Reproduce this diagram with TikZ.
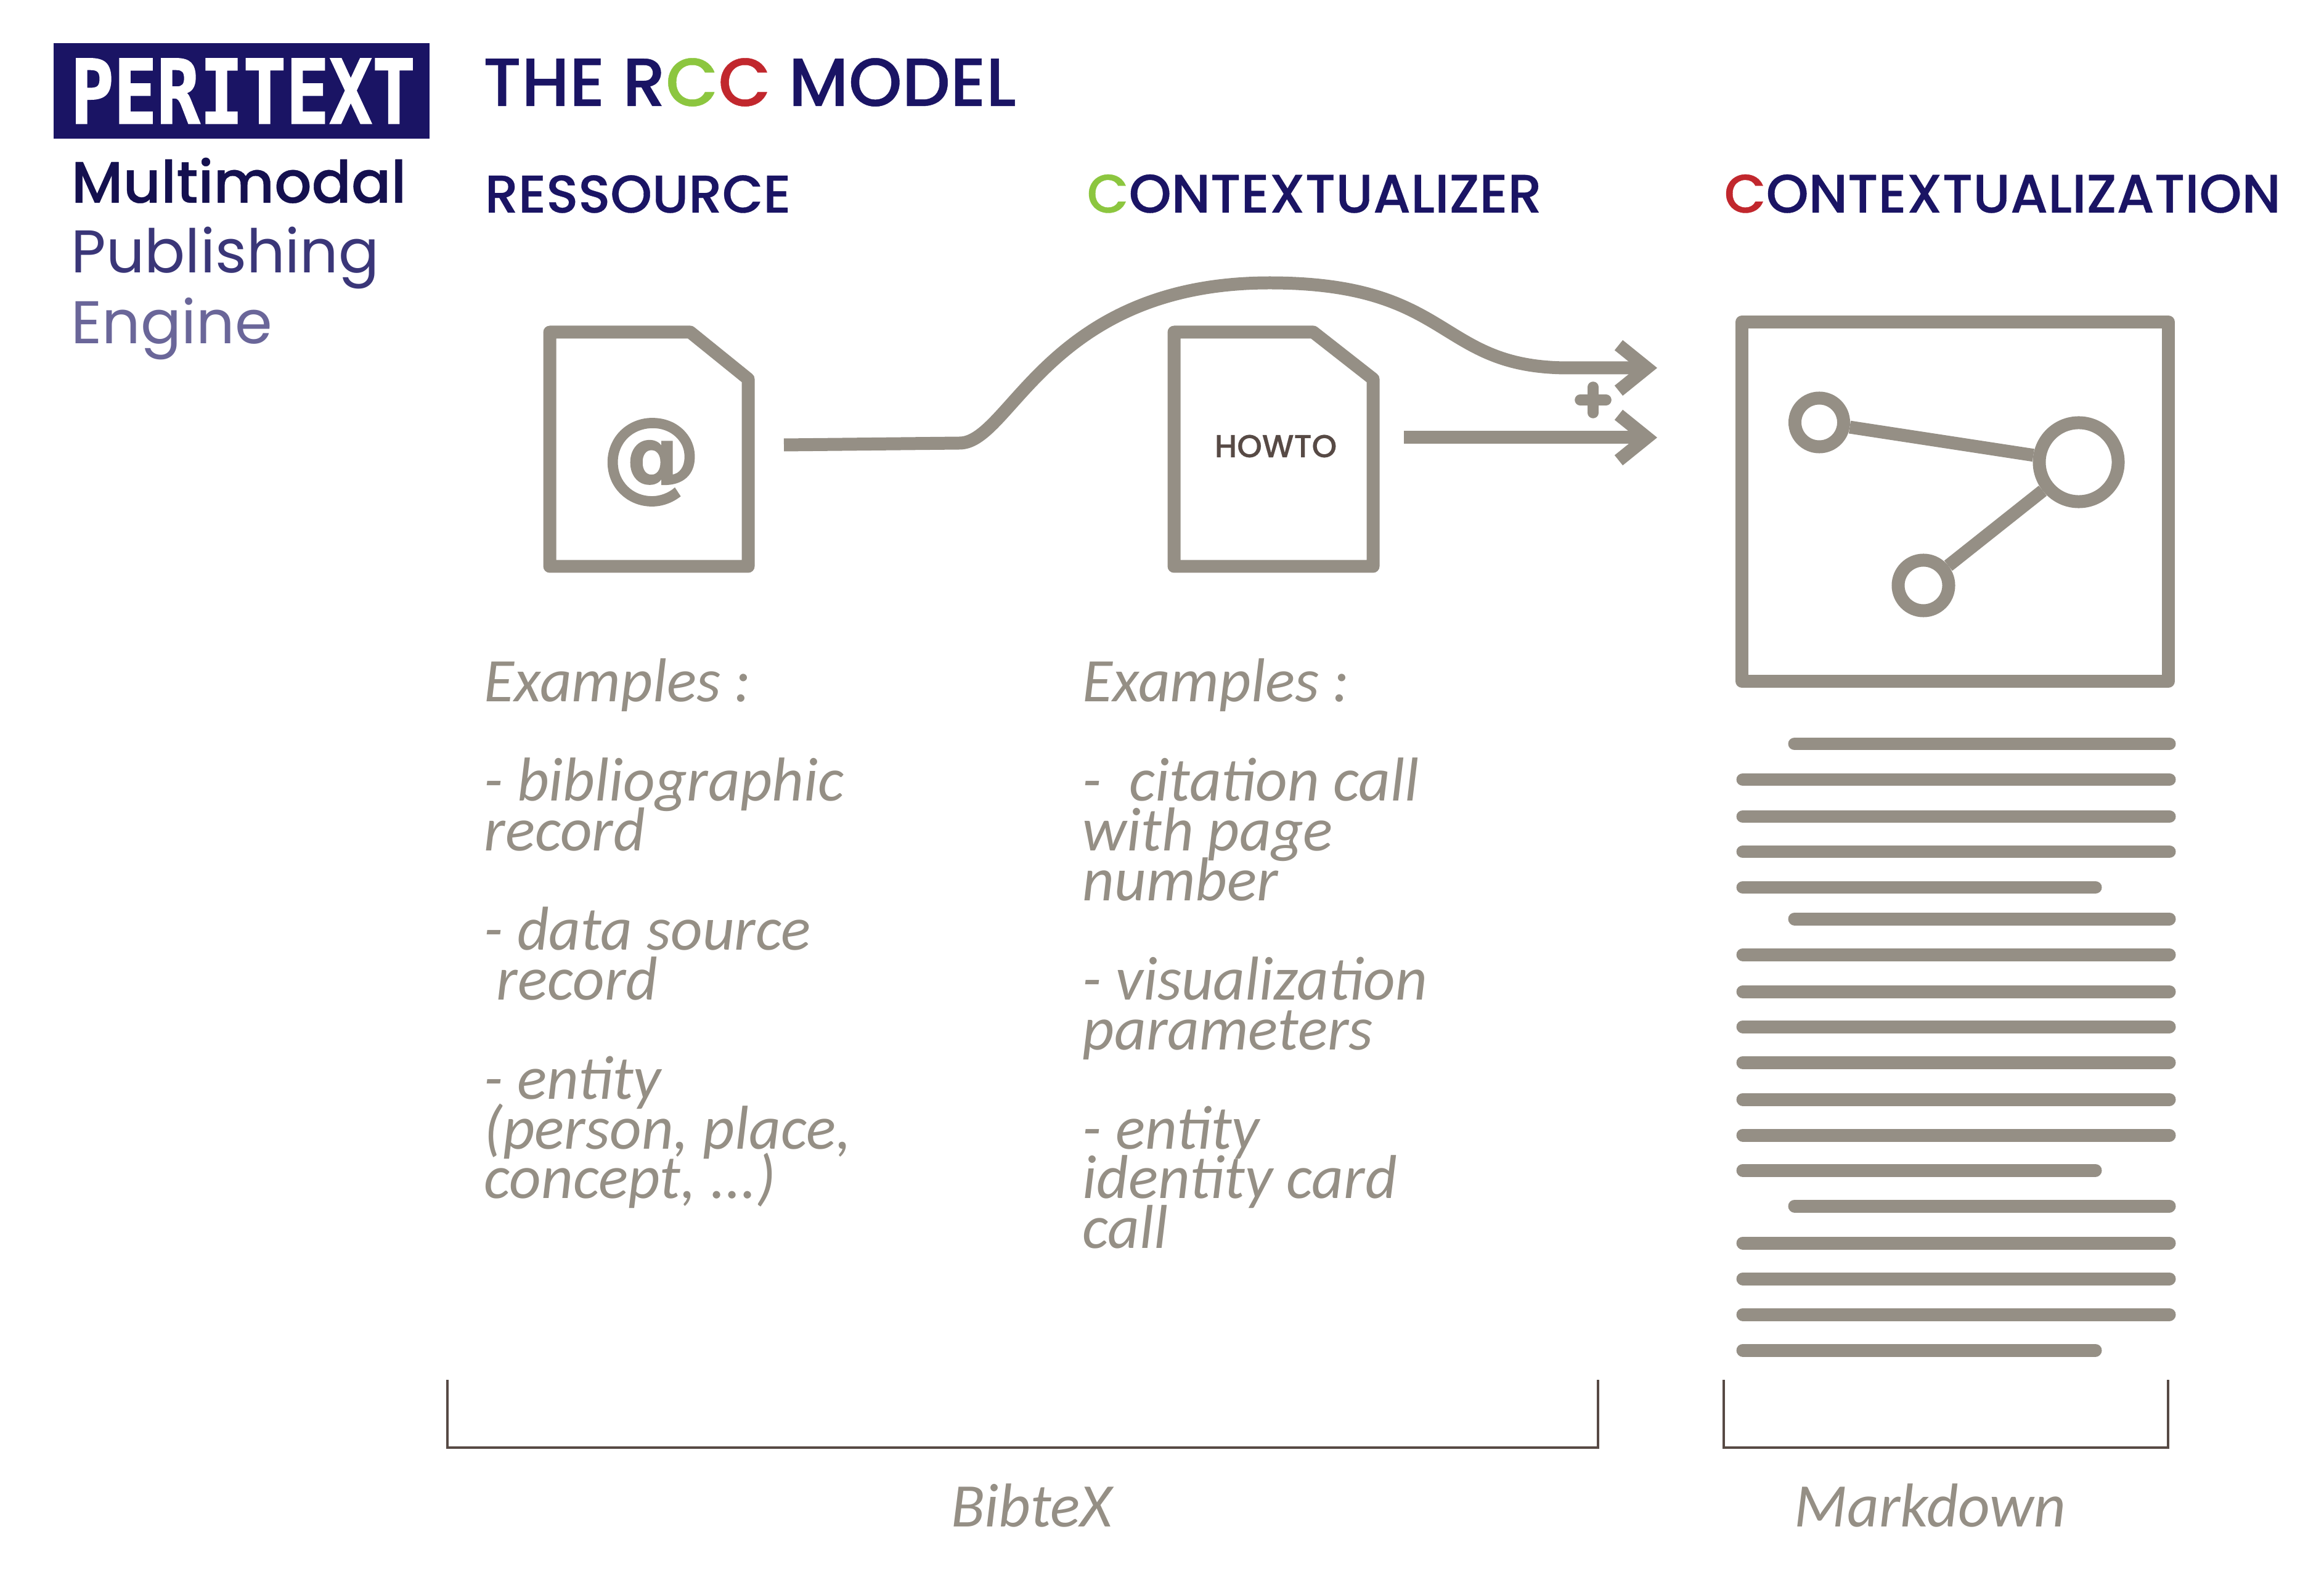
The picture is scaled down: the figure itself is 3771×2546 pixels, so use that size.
\documentclass[tikz,border=0pt]{standalone}
\usepackage{graphicx}
\usepackage{fontspec}
\usetikzlibrary{arrows.meta}
\setmainfont{Carlito}
\newfontfamily\headfont[FakeBold=0.4]{Poppins Medium}
\newfontfamily\subfont{Poppins}
\newfontfamily\iconfont[FakeBold=1.2]{DejaVu Sans Bold}
\newfontfamily\pixfont[FakeBold=1.5]{DejaVu Sans Mono Bold}
\normallineskiplimit=-100pt
\definecolor{navy}{HTML}{1A1464}
\definecolor{deepnavy}{HTML}{14104F}
\definecolor{midnavy}{HTML}{3A3678}
\definecolor{palenavy}{HTML}{6A6699}
\definecolor{leaf}{HTML}{8CC63F}
\definecolor{crimson}{HTML}{C1272D}
\definecolor{stone}{HTML}{958F85}
\definecolor{umber}{HTML}{574A45}
\tikzset{
  x=0.01cm,y=-0.01cm,
  thick stone/.style={draw=stone,line width=5.97pt,line join=round},
  linker/.style={draw=stone,line width=5.97pt,line join=round,-{Straight Barb[length=13pt,width=21pt,line width=6pt]}},
  bar/.style={draw=stone,line width=5.97pt,line cap=round},
  bracket/.style={draw=umber,line width=0.9pt},
  netdot/.style={circle,draw=stone,line width=5.97pt,fill=white,inner sep=0pt},
  title/.style={anchor=base west,inner sep=0pt,text=navy,font=\headfont\fontsize{31.4}{31.4}\selectfont},
  head/.style={anchor=base west,inner sep=0pt,text=navy,font=\headfont\fontsize{25}{25}\selectfont},
  tagline/.style={anchor=base west,inner sep=0pt,font=\subfont\fontsize{27.8}{27.8}\selectfont},
  example/.style={anchor=north west,inner sep=0pt,align=left,text=stone,font=\itshape\fontsize{28.6}{22.93}\selectfont},
  format/.style={anchor=base,inner sep=0pt,text=stone,font=\itshape\fontsize{28.6}{28.6}\selectfont},
}
\begin{document}
\lineskiplimit=-100pt
\begin{tikzpicture}
\useasboundingbox (0,0) rectangle (3771,2546);
% logo
\fill[navy] (87,70) rectangle (697,225);
\node[anchor=south west,inner sep=0pt,text=white] (logo) at (114,201) {\resizebox{5.59cm}{1.05cm}{\pixfont PERITEXT}};
\node[tagline,text=deepnavy,font=\headfont\fontsize{27}{27}\selectfont] (t1) at (115,329) {Multimodal};
\node[tagline,text=midnavy] (t2) at (115,443) {Publishing};
\node[tagline,text=palenavy] (t3) at (115,558) {Engine};
% titles
\node[title] (title) at (783,172) {THE R\textcolor{leaf}{C}\textcolor{crimson}{C} MODEL};
\node[head,font=\headfont\fontsize{24.5}{24.5}\selectfont] (h1) at (786,345) {RESSOURCE};
\node[head] (h2) at (1763,345) {\textcolor{leaf}{C}ONTEXTUALIZER};
\node[head] (h3) at (2797,345) {\textcolor{crimson}{C}ONTEXTUALIZATION};
% documents
\draw[thick stone] (892,539) -- (1120,539) -- (1214,615) -- (1214,919) -- (892,919) -- cycle;
\draw[thick stone] (1905,539) -- (2131,539) -- (2228,615) -- (2228,919) -- (1905,919) -- cycle;
\node[inner sep=0pt,text=stone,font=\iconfont\fontsize{46}{46}\selectfont] (at) at (1057,750) {@};
\node[anchor=base,inner sep=0pt,text=umber,font=\headfont\fontsize{14.7}{14.7}\selectfont] (howto) at (2070,742) {HOWTO};
% connectors
\coordinate (c1a) at (1272,722);
\coordinate (c1b) at (1557,719);
\coordinate (c1c) at (2060,459);
\coordinate (c1d) at (2545,597);
\coordinate (c1e) at (2689,597);
\coordinate (c2a) at (2278,710);
\coordinate (c2b) at (2689,710);
\path[linker] (c1a) -- (c1b) .. controls (1640,719) and (1700,459) .. (c1c) .. controls (2360,459) and (2330,597) .. (c1d) -- (c1e);
\path[linker] (c2a) -- (c2b);
\draw[stone,line width=5pt,line cap=round] (2564,649) -- (2606,649) (2585,628) -- (2585,670);
% contextualization box
\draw[thick stone] (2826.5,522.5) rectangle (3518.5,1105.5);
\node[netdot,minimum size=0.79cm] (n1) at (2952,685.5) {};
\node[netdot,minimum size=1.28cm] (n2) at (3373,750) {};
\node[netdot,minimum size=0.82cm] (n3) at (3121,950) {};
\draw[thick stone] (n1) -- (n2);
\draw[thick stone] (n3) -- (n2);
% text bars
\foreach \y in {1207,1491,1957} \draw[bar] (2912,\y) -- (3520,\y);
\foreach \y in {1265,1325,1382,1549,1609,1666,1724,1784,1842,2017,2075,2133} \draw[bar] (2828,\y) -- (3520,\y);
\foreach \y in {1440,1899,2191} \draw[bar] (2828,\y) -- (3400,\y);
% examples
\node[example] (ex1) at (785,1068) {Examples :\\ \\- bibliographic\\record\\ \\- data source\\\hspace*{0.2em}record\\ \\- entity\\(person, place,\\concept, ...)};
\node[example] (ex2) at (1756,1068) {Examples :\\ \\-\hspace*{0.45em}citation call\\with page\\number\\ \\- visualization\\parameters\\ \\- entity\\identity card\\call};
% brackets
\coordinate (b1a) at (726,2239);
\coordinate (b1b) at (726,2349);
\coordinate (b1c) at (2593,2349);
\coordinate (b1d) at (2593,2239);
\coordinate (b2a) at (2797,2239);
\coordinate (b2b) at (2797,2349);
\coordinate (b2c) at (3518,2349);
\coordinate (b2d) at (3518,2239);
\draw[bracket] (b1a) -- (b1b) -- (b1c) -- (b1d);
\draw[bracket] (b2a) -- (b2b) -- (b2c) -- (b2d);
\node[format] (bib) at (1674,2477) {BibteX};
\node[format] (md) at (3132,2477) {Markdown};
\end{tikzpicture}
\end{document}
